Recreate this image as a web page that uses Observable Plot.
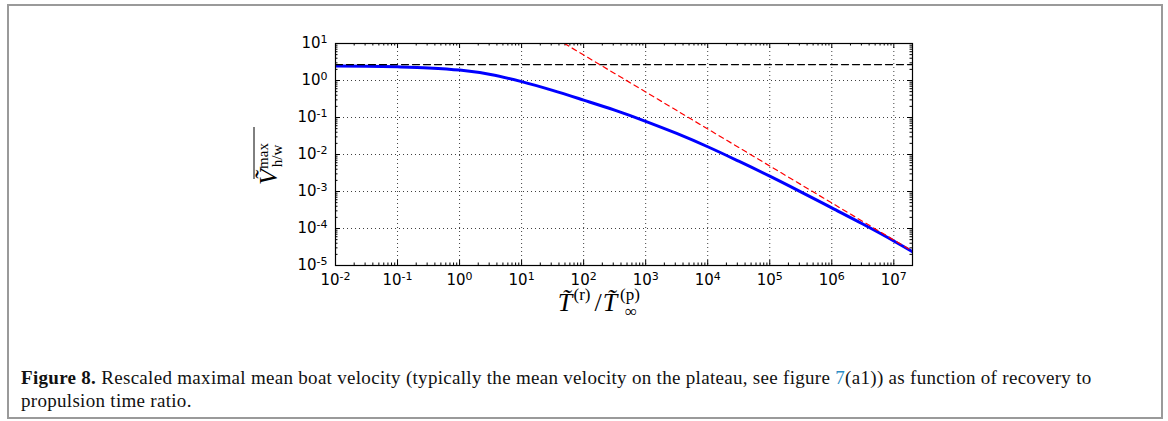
<!DOCTYPE html>
<html><head><meta charset="utf-8">
<script src="https://cdn.jsdelivr.net/npm/d3@7"></script>
<script src="https://cdn.jsdelivr.net/npm/@observablehq/plot@0.6"></script>
<style>
body{margin:0;background:#fff;}
#wrap{position:relative;width:1168px;height:421px;overflow:hidden;background:#fff;}
#border{position:absolute;left:7px;top:4px;width:1152px;height:411px;border:2px solid #9a9a9a;}
#chart{position:absolute;left:0;top:0;}
#caption{position:absolute;left:21px;top:366px;font-family:"Liberation Serif",serif;font-size:19px;letter-spacing:0.3px;line-height:23px;color:#111;white-space:nowrap;}
#caption .lnk{color:#2b8cc4;}
</style></head><body>
<div id="wrap"><div id="border"></div><div id="chart"></div>
<div id="caption"><b>Figure 8.</b> Rescaled maximal mean boat velocity (typically the mean velocity on the plateau, see figure <span class="lnk">7</span>(a1)) as function of recovery to<br>propulsion time ratio.</div>
</div>
<script>
// tick values (decades)
const xMajor = [1e-2, 1e-1, 1e0, 1e1, 1e2, 1e3, 1e4, 1e5, 1e6, 1e7];
const yMajor = [1e-5, 1e-4, 1e-3, 1e-2, 1e-1, 1e0, 1e1];
const xDomain = [1e-2, 2e7];
const yDomain = [1e-5, 10];

// blue curve: rescaled maximal mean velocity
const blueX = [0.01, 0.0316, 0.1, 0.316, 1, 3.16, 10, 31.6, 100, 316, 1000, 3162, 1e4, 3.16e4, 1e5, 3.16e5, 1e6, 3.16e6, 1e7, 2e7];
const blueY = [2.48, 2.43, 2.34, 2.19, 1.91, 1.45, 0.93, 0.54, 0.295, 0.158, 0.079, 0.037, 0.0162, 0.0066, 0.0026, 0.00098, 0.00036, 0.000132, 4.6e-5, 2.35e-5];

// black dashed plateau asymptote
const plateauX = [0.01, 2e7];
const plateauY = [2.7, 2.7];

// red dashed large-ratio asymptote
const redX = [49, 2e7];
const redY = [10, 2.45e-5];

const blue = blueX.map((x, i) => ({x, y: blueY[i]}));
const plateau = plateauX.map((x, i) => ({x, y: plateauY[i]}));
const red = redX.map((x, i) => ({x, y: redY[i]}));

const minorX = [];
xMajor.forEach(d => { for (let k = 2; k < 10; k++) { const v = d * k; if (v <= xDomain[1]) minorX.push(v); } });
const minorY = [];
yMajor.slice(0, -1).forEach(d => { for (let k = 2; k < 10; k++) minorY.push(d * k); });

const W = 1168, H = 421, mL = 335, mR = 256, mT = 43, mB = 156;
const fh = H - mT - mB, fw = W - mL - mR;
const fmt = d => "10^" + Math.round(Math.log10(d));

const chart = Plot.plot({
  width: W, height: H,
  marginLeft: mL, marginRight: mR, marginTop: mT, marginBottom: mB,
  style: {fontFamily: "DejaVu Sans", fontSize: "15px", color: "#000", background: "transparent"},
  x: {type: "log", domain: xDomain},
  y: {type: "log", domain: yDomain},
  marks: [
    Plot.gridX(xMajor.slice(1), {stroke: "#000", strokeOpacity: 0.75, strokeWidth: 1, strokeDasharray: "1,3"}),
    Plot.gridY(yMajor.slice(1, -1), {stroke: "#000", strokeOpacity: 0.75, strokeWidth: 1, strokeDasharray: "1,3"}),
    Plot.tickX(xMajor, {x: d => d, insetTop: fh - 5, stroke: "#000"}),
    Plot.tickX(xMajor, {x: d => d, insetBottom: fh - 5, stroke: "#000"}),
    Plot.tickX(minorX, {x: d => d, insetTop: fh - 2.5, stroke: "#000"}),
    Plot.tickX(minorX, {x: d => d, insetBottom: fh - 2.5, stroke: "#000"}),
    Plot.tickY(yMajor, {y: d => d, insetRight: fw - 5, stroke: "#000"}),
    Plot.tickY(yMajor, {y: d => d, insetLeft: fw - 5, stroke: "#000"}),
    Plot.tickY(minorY, {y: d => d, insetRight: fw - 2.5, stroke: "#000"}),
    Plot.tickY(minorY, {y: d => d, insetLeft: fw - 2.5, stroke: "#000"}),
    Plot.line(blue, {x: "x", y: "y", stroke: "#0000ff", strokeWidth: 3, curve: "monotone-x", clip: true}),
    Plot.line(plateau, {x: "x", y: "y", stroke: "#000", strokeWidth: 1.3, strokeDasharray: "7,4", clip: true}),
    Plot.line(red, {x: "x", y: "y", stroke: "#ff0000", strokeWidth: 1.2, strokeDasharray: "5,4", clip: true}),
    Plot.frame({stroke: "#000", strokeWidth: 1.2}),
    Plot.axisX(xMajor, {tickSize: 0, tickPadding: 9, tickFormat: fmt, label: null, fontSize: 15}),
    Plot.axisY(yMajor, {tickSize: 0, tickPadding: 8, tickFormat: fmt, label: null, fontSize: 15})
  ]
});
document.getElementById("chart").appendChild(chart);

const svg = d3.select(chart);
svg.selectAll('g[aria-label="x-axis tick label"] text, g[aria-label="y-axis tick label"] text').each(function () {
  const t = d3.select(this);
  const [b, e] = t.text().split("^");
  t.text(null);
  t.append("tspan").text(b);
  t.append("tspan").attr("dy", "-0.5em").attr("font-size", "11px").text(e);
});

// y label
const yl = svg.append("g").attr("transform", "translate(277,146) rotate(-90)")
  .attr("font-family", "Liberation Serif").attr("fill", "#000");
yl.append("text").attr("x", -31).attr("y", 0).attr("font-size", 26).attr("font-style", "italic").text("V\u0303");
yl.append("text").attr("x", -10).attr("y", -9).attr("font-size", 15).text("max");
yl.append("text").attr("x", -10).attr("y", 5).attr("font-size", 15).text("h/w");
yl.append("line").attr("x1", -33).attr("x2", 19).attr("y1", -23).attr("y2", -23).attr("stroke", "#000").attr("stroke-width", 1);

// x label
const xl = svg.append("g").attr("font-family", "Liberation Serif").attr("fill", "#000");
xl.append("text").attr("x", 565).attr("y", 311).attr("font-size", 26).attr("font-style", "italic").text("T\u0303");
xl.append("text").attr("x", 582).attr("y", 300).attr("font-size", 17).text("(r)");
xl.append("text").attr("x", 598).attr("y", 311).attr("font-size", 26).text("/");
xl.append("text").attr("x", 610).attr("y", 311).attr("font-size", 26).attr("font-style", "italic").text("T\u0303");
xl.append("text").attr("x", 630).attr("y", 300).attr("font-size", 17).text("(p)");
xl.append("text").attr("x", 631).attr("y", 317).attr("font-size", 17).text("\u221E");
</script>
</body></html>
